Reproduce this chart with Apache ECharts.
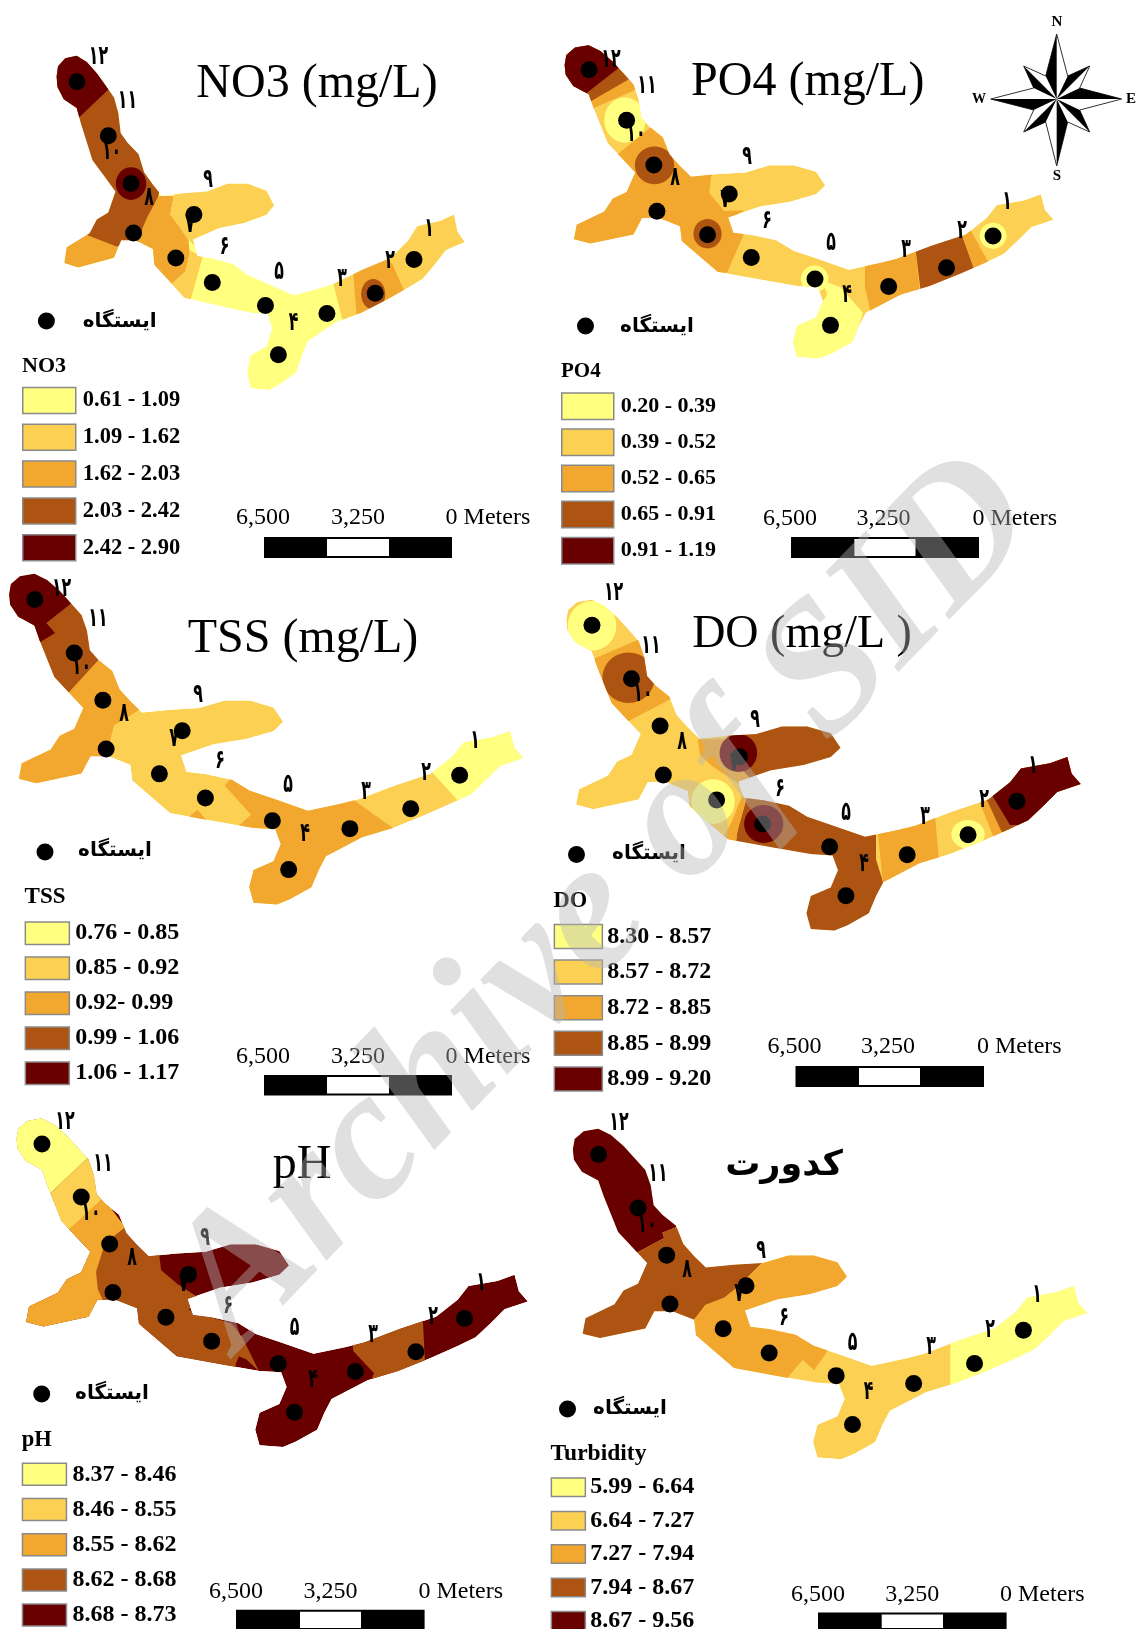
<!DOCTYPE html>
<html><head><meta charset="utf-8">
<style>html,body{margin:0;padding:0;background:#fff}#c{width:1136px;height:1629px}</style>
<script src="https://cdn.jsdelivr.net/npm/echarts@6/dist/echarts.min.js"></script>
</head><body><div id="c"></div>
<script>
// ---------- data (map units) ----------
const RIVER_OUTLINE = [[25,100],[30,70],[55,47],[95,40],[130,58],[165,90],[195,125],[225,160],[240,205],[248,262],[272,290],[310,322],[330,375],[360,410],[392,443],[470,435],[550,430],[620,408],[690,408],[755,428],[782,470],[755,497],[680,520],[590,535],[500,568],[515,615],[570,622],[640,638],[690,670],[760,695],[850,728],[940,708],[990,695],[1090,655],[1190,620],[1250,570],[1280,530],[1360,515],[1408,497],[1420,545],[1445,575],[1380,598],[1340,640],[1300,680],[1250,705],[1175,740],[1085,778],[1000,805],[900,860],[880,900],[860,950],[800,985],[765,1000],[700,995],[688,950],[700,900],[755,875],[775,825],[760,782],[700,778],[600,760],[470,735],[420,690],[365,640],[360,595],[300,570],[250,570],[225,620],[100,648],[52,635],[60,590],[140,550],[165,510],[205,490],[230,430],[190,385],[150,340],[110,235],[95,190],[50,165],[28,130]];
const STATIONS = [[1269,625],[1134,722],[966,780],[797,899],[752,757],[567,691],[503,496],[440,621],[293,549],[284,407],[205,270],[96,115]];
const STATION_NAMES = ["۱","۲","۳","۴","۵","۶","۷","۸","۹","۱۰","۱۱","۱۲"];
const STATION_WORD = "ایستگاه";
const CLASS_COLORS = ["#FFFF80","#FCD153","#F2A72E","#AD5412","#690000"];

const RANGES_NO3 = ["0.61 - 1.09","1.09 - 1.62","1.62 - 2.03","2.03 - 2.42","2.42 - 2.90"];
const RANGES_PO4 = ["0.20 - 0.39","0.39 - 0.52","0.52 - 0.65","0.65 - 0.91","0.91 - 1.19"];
const RANGES_TSS = ["0.76 - 0.85","0.85 - 0.92","0.92- 0.99","0.99 - 1.06","1.06 - 1.17"];
const RANGES_DO  = ["8.30 - 8.57","8.57 - 8.72","8.72 - 8.85","8.85 - 8.99","8.99 - 9.20"];
const RANGES_PH  = ["8.37 - 8.46","8.46 - 8.55","8.55 - 8.62","8.62 - 8.68","8.68 - 8.73"];
const RANGES_TURB= ["5.99 - 6.64","6.64 - 7.27","7.27 - 7.94","7.94 - 8.67","8.67 - 9.56"];

// zones in paint order: [class, polygon] or [class, cx, cy, rx, ry]; clipped to the river
const ZONES_NO3 = [
 [0,RIVER_OUTLINE],
 [3,[[380,443],[339,516],[322,574],[231,589],[105,548],[-46,506],[-46,-15],[458,-15]]],
 [2,[[380,443],[433,443],[421,495],[484,568],[490,621],[471,662],[421,699],[332,673],[307,569],[339,506]]],
 [2,[[108,548],[238,589],[238,673],[-46,673],[-46,527]]],
 [1,[[433,402],[837,350],[837,527],[509,589],[484,568],[421,495],[433,443]]],
 [1,[[490,600],[534,616],[490,746],[408,725],[421,699],[471,662]]],
 [4,[[0,299],[350,23],[350,-50],[-50,-50],[-50,299]]],
 [4,284,407,53,47],
 [1,[[988,694],[1023,808],[1467,715],[1467,454],[988,454]]],
 [2,[[1057,652],[1070,798],[1240,725],[1196,642],[1165,610],[1057,631]]],
 [3,1127,725,42,44]
];
const ZONES_PO4 = [
 [1,RIVER_OUTLINE],
 [2,[[178,375],[281,286],[521,347],[450,442],[445,492],[488,548],[548,546],[510,570],[545,620],[497,737],[347,737],[-23,682],[-23,459]]],
 [3,286,408,57,58],
 [3,440,618,41,45],
 [0,200,269,60,69],
 [2,[[-50,306],[400,98],[400,-50],[-50,-50]]],
 [3,[[-50,304],[400,29],[400,-50],[-50,-50]]],
 [4,[[0,260],[300,12],[300,-50],[-50,-50],[-50,260]]],
 [2,[[897,626],[897,782],[924,905],[1065,882],[1038,615]]],
 [3,[[1038,615],[1065,849],[1229,771],[1169,592]]],
 [2,[[1169,592],[1229,771],[1272,737],[1196,592]]],
 [0,1269,624,39,40],
 [0,751,756,40,41],
 [0,[[772,760],[826,782],[891,860],[848,1016],[674,1016],[674,882],[761,849],[788,804]]]
];
const ZONES_TSS = [
 [1,RIVER_OUTLINE],
 [2,[[190,385],[272,290],[400,300],[385,435],[315,480],[295,560],[240,610],[200,700],[-20,700],[-20,400]]],
 [3,[[190,385],[272,290],[350,200],[200,50],[50,200],[120,430]]],
 [4,[[108,240],[152,212],[128,183],[198,125],[210,50],[50,-20],[-20,50],[-20,250]]],
 [2,[[620,655],[650,620],[900,640],[1085,778],[1100,1050],[640,1050],[655,775],[693,740]]],
 [2,[[520,748],[545,725],[572,757]]],
 [0,[[1170,590],[1270,705],[1500,705],[1500,450],[1170,450]]]
];
const ZONES_DO = [
 [1,RIVER_OUTLINE],
 [0,96,116,67,72],
 [2,[[104,210],[238,150],[389,275],[311,330],[192,395],[78,395]]],
 [3,197,267,72,73],
 [3,[[471,445],[445,455],[502,535],[544,575],[854,575],[854,375],[471,375]]],
 [2,[[388,445],[461,445],[502,525],[539,565],[502,575],[430,525],[394,490]]],
 [4,500,485,52,55],
 [0,430,626,60,65],
 [3,[[523,614],[497,714],[492,754],[689,824],[678,1024],[854,1024],[901,864],[880,794],[880,704],[803,604],[616,585]]],
 [2,[[513,604],[523,614],[497,714],[492,754],[461,724],[482,684],[497,644]]],
 [4,570,691,54,55],
 [2,[[880,664],[901,884],[1056,824],[1041,644]]],
 [0,1134,721,46,42],
 [2,[[1165,624],[1206,734],[1527,734],[1527,325],[1165,325]]],
 [3,[[1185,619],[1227,714],[1527,714],[1527,325],[1185,325]]],
 [4,[[1201,609],[1250,694],[1527,694],[1527,325],[1201,325]]]
];
const ZONES_PH = [
 [4,RIVER_OUTLINE],
 [3,[[327,358],[483,358],[422,444],[427,484],[472,524],[531,564],[503,599],[623,640],[652,680],[699,780],[664,745],[643,735],[633,760],[674,860],[281,860],[-20,660],[-20,358]]],
 [2,[[171,358],[266,273],[327,358],[271,404],[246,489],[251,539],[266,574],[241,680],[-20,680],[-20,358]]],
 [1,[[120,258],[231,148],[382,148],[266,273],[171,364],[-20,364],[-20,258]]],
 [0,[[120,258],[231,148],[281,57],[80,-43],[-70,57],[-70,258]]],
 [3,[[955,660],[960,720],[1018,785],[986,860],[1162,810],[1152,599],[986,609]]]
];
const ZONES_TURB = [
 [1,RIVER_OUTLINE],
 [4,[[200,401],[277,357],[272,342],[308,327],[400,200],[100,-50],[-50,100],[-50,500]]],
 [3,[[200,401],[277,357],[272,342],[308,327],[500,327],[547,430],[484,496],[443,531],[391,552],[360,594],[360,800],[-50,800],[-50,500]]],
 [2,[[547,430],[900,300],[900,600],[700,600],[728,686],[691,741],[660,711],[619,761],[619,900],[300,900],[360,594],[391,552],[443,531],[484,496]]],
 [0,[[1067,400],[1067,900],[1600,900],[1600,400]]]
];

// ---------- layout (page pixels) ----------
const SERIF = '"Liberation Serif"';
const PANELS = [
 {key:"NO3",title:"NO3 (mg/L)",tx:317,ty:84,tf:`48px ${SERIF}`,ranges:RANGES_NO3,zones:ZONES_NO3,ax:.2873,bx:49.4,ay:.3482,by:41.8,
  lt:"NO3",ltx:22,lty:366,lts:22,sl:22,st:387.5,sw:53,sh:26,pitch:36.8,fs:22.5,tg:2,
  dot:[46.4,321],word:[119.6,322],bar:[264,327,389,452,537,558],sc:[263,358,445.6,518],
  nums:[[429,229],[390,261],[342,279],[293.5,323],[279,272],[224.6,247],[190,225.4],[149,198],[208,180],[111.6,152],[127.5,101],[98.5,57.4]]},
 {key:"PO4",title:"PO4 (mg/L)",tx:807.7,ty:82,tf:`48px ${SERIF}`,ranges:RANGES_PO4,zones:ZONES_PO4,ax:.3444,bx:556,ay:.326,by:32.3,
  lt:"PO4",ltx:561,lty:372,lts:21,sl:561,st:393,sw:52,sh:26.5,pitch:36.1,fs:22,tg:2,
  dot:[585.5,326],word:[657,327],bar:[791,854.4,915.5,979,537,558],sc:[790,883.6,972.5,518.5],
  nums:[[1007,202],[962,231.6],[906,250],[847,295],[831,243.5],[767,221],[725,200],[675,178],[747,157],[636,134.5],[647,86.5],[611,60]]},
 {key:"TSS",title:"TSS (mg/L)",tx:303,ty:639.5,tf:`48px ${SERIF}`,ranges:RANGES_TSS,zones:ZONES_TSS,ax:.3622,bx:0,ay:.3444,by:560,
  lt:"TSS",ltx:24.6,lty:897,lts:23,sl:24.6,st:922,sw:44,sh:22.5,pitch:35,fs:24,tg:1,
  dot:[45,852],word:[115,851],bar:[264,327,389,452,1075,1095.5],sc:[263,358,445.6,1057],
  nums:[[475,741],[426,773.5],[366,792.5],[305,834.5],[288,785.6],[220,761.5],[174,739],[124,714],[198,695],[81.5,667],[98,619],[61.6,589]]},
 {key:"DO",title:"DO (mg/L )",tx:802,ty:635,tf:`46px ${SERIF}`,ranges:RANGES_DO,zones:ZONES_DO,ax:.3623,bx:557.2,ay:.3449,by:585.7,
  lt:"DO",ltx:553.6,lty:901,lts:22.5,sl:553.6,st:924.5,sw:48,sh:24,pitch:35.6,fs:24,tg:0,
  dot:[576.5,854.5],word:[649,854],bar:[795.5,859,920,984,1066,1087],sc:[794.5,888,977,1046.6],
  nums:[[1033,766.6],[984,800],[925,817.6],[864,864],[846,813],[780,789],[734,763],[682,742],[755,720],[643,694],[651,646],[613.6,593.4]]},
 {key:"pH",title:"pH",tx:302,ty:1165,tf:`48px ${SERIF}`,ranges:RANGES_PH,zones:ZONES_PH,ax:.3602,bx:7.4,ay:.3423,by:1104.6,
  lt:"pH",ltx:21.7,lty:1440,lts:22.5,sl:21.7,st:1463.3,sw:44,sh:22,pitch:35.2,fs:24,tg:1,
  dot:[41.7,1394],word:[112,1394],bar:[236,300,361,424.6,1609.8,1630],sc:[236,330.6,418.4,1591.5],
  nums:[[481,1283.5],[433,1317],[373,1335],[313,1380],[294.6,1328],[228,1306],[183.7,1284],[132,1258.4],[205,1238.5],[91,1212.7],[103,1164],[65,1122]]},
 {key:"Turbidity",title:"کدورت",tx:784,ty:1165.6,tf:'bold 35px "DejaVu Sans"',ranges:RANGES_TURB,zones:ZONES_TURB,ax:.3622,bx:563.8,ay:.3443,by:1115,
  lt:"Turbidity",ltx:550.6,lty:1453.5,lts:23.5,sl:550.6,st:1478,sw:34,sh:18.5,pitch:33.4,fs:24,tg:0,
  dot:[567.5,1409],word:[630,1409],bar:[818,881.7,943,1006.6,1612.5,1630],sc:[818,912.3,1000,1594.5],
  nums:[[1037,1295.6],[990,1330],[931,1347],[868.6,1392.5],[852.5,1342.7],[784,1318.6],[739,1294.5],[687,1270.5],[761,1251],[647,1224.8],[658,1174],[619,1122.7]]}
];
const MAP_X = [0,1500], MAP_Y = [0,1010];

// ---------- build ----------
const grid=[],xAxis=[],yAxis=[],series=[],legend=[],graphic=[];
const txt=(text,x,y,font,extra)=>graphic.push(Object.assign({type:'text',z:20,silent:true,style:{text,x,y,font,fill:'#000',align:'center',verticalAlign:'middle',textAlign:'center',textVerticalAlign:'middle'}},extra||{}));

PANELS.forEach((p,i)=>{
  grid.push({left:p.bx+p.ax*MAP_X[0],top:p.by+p.ay*MAP_Y[0],width:p.ax*(MAP_X[1]-MAP_X[0]),height:p.ay*(MAP_Y[1]-MAP_Y[0]),show:false,containLabel:false});
  xAxis.push({type:'value',gridIndex:i,min:MAP_X[0],max:MAP_X[1],show:false});
  yAxis.push({type:'value',gridIndex:i,min:MAP_Y[0],max:MAP_Y[1],inverse:true,show:false});
  p.ranges.forEach((name,cls)=>{
    const ids=[];p.zones.forEach((z,k)=>{if(z[0]===cls)ids.push([k,0]);});
    series.push({type:'custom',name,xAxisIndex:i,yAxisIndex:i,coordinateSystem:'cartesian2d',silent:true,animation:false,
      itemStyle:{color:CLASS_COLORS[cls]},data:ids,z:2,
      renderItem:(params,api)=>{
        const k=api.value(0),z=p.zones[k],fill=CLASS_COLORS[cls];
        const clipPts=RIVER_OUTLINE.map(q=>api.coord(q));
        const clipPath={type:'polygon',shape:{points:clipPts}};
        if(z.length===2){
          return {type:'polygon',z2:k,shape:{points:z[1].map(q=>api.coord(q))},style:{fill,stroke:null},clipPath};
        }
        const c=api.coord([z[1],z[2]]),s=api.size([z[3],z[4]]);
        return {type:'ellipse',z2:k,shape:{cx:c[0],cy:c[1],rx:s[0],ry:s[1]},style:{fill,stroke:null},clipPath};
      }});
  });
  series.push({type:'scatter',name:STATION_WORD+' '+p.key,xAxisIndex:i,yAxisIndex:i,data:STATIONS,symbol:'circle',symbolSize:17,itemStyle:{color:'#000',opacity:1},silent:true,animation:false,z:5});

  const rowH=Math.max(p.sh+1.5,p.fs);
  legend.push({show:true,orient:'vertical',left:p.sl,top:p.st-(rowH-p.sh)/2,height:240,padding:0,itemWidth:p.sw,itemHeight:p.sh,itemGap:p.pitch-rowH,selectedMode:false,
    textStyle:{fontFamily:'Liberation Serif',fontWeight:'bold',fontSize:p.fs,color:'#000',padding:[0,0,0,p.tg]},
    data:p.ranges.map((name,cls)=>({name,icon:'rect',itemStyle:{color:CLASS_COLORS[cls],borderColor:'#8a8a8a',borderWidth:1.5}}))});

  txt(p.title,p.tx,p.ty,p.tf);
  graphic.push({type:'text',z:20,silent:true,style:{text:p.lt,x:p.ltx,y:p.lty,font:`bold ${p.lts}px ${SERIF}`,fill:'#000',align:'left',textAlign:'left',verticalAlign:'middle',textVerticalAlign:'middle'}});
  graphic.push({type:'circle',z:20,silent:true,shape:{cx:p.dot[0],cy:p.dot[1],r:8.5},style:{fill:'#000'}});
  txt(STATION_WORD,p.word[0],p.word[1],'bold 20px "DejaVu Sans"');
  p.nums.forEach((q,n)=>graphic.push({type:'text',z:20,silent:true,x:q[0],y:q[1],scaleX:.72,scaleY:1.2,style:{text:STATION_NAMES[n],x:0,y:0,font:'bold 22px "DejaVu Sans"',fill:'#000',align:'center',textAlign:'center',verticalAlign:'middle',textVerticalAlign:'middle'}}));
  const b=p.bar;
  graphic.push({type:'rect',z:20,silent:true,shape:{x:b[0],y:b[4],width:b[3]-b[0],height:b[5]-b[4]},style:{fill:'#000'}});
  graphic.push({type:'rect',z:21,silent:true,shape:{x:b[1],y:b[4]+2,width:b[2]-b[1],height:b[5]-b[4]-4},style:{fill:'#fff'}});
  txt("6,500",p.sc[0],p.sc[3],`24px ${SERIF}`);
  txt("3,250",p.sc[1],p.sc[3],`24px ${SERIF}`);
  graphic.push({type:'text',z:20,silent:true,style:{text:"0 Meters",x:p.sc[2],y:p.sc[3],font:`24px ${SERIF}`,fill:'#000',align:'left',textAlign:'left',verticalAlign:'middle',textVerticalAlign:'middle'}});
});

// compass rose
const CX=1056.7,CY=99;
const tips=[[0,-65],[33,-33],[65,0],[33,33],[0,67],[-33,33],[-66,0],[-33,-33]];
const notches=[[-11,-23],[11,-23],[23,-11],[23,11],[11,23],[-11,23],[-23,11],[-23,-11]];
const star=[];tips.forEach((t,i)=>{star.push([CX+notches[i][0],CY+notches[i][1]]);star.push([CX+t[0],CY+t[1]]);});
graphic.push({type:'polygon',z:20,silent:true,shape:{points:star},style:{fill:'#fff',stroke:'#333',lineWidth:1}});
tips.forEach((t,i)=>graphic.push({type:'polygon',z:21,silent:true,shape:{points:[[CX+t[0],CY+t[1]],[CX+notches[i][0],CY+notches[i][1]],[CX,CY]]},style:{fill:'#000'}}));
txt("N",1057,22,`bold 15px ${SERIF}`);txt("S",1057,176,`bold 15px ${SERIF}`);txt("W",979,99,`bold 14px ${SERIF}`);txt("E",1131,99,`bold 15px ${SERIF}`);

// watermark
graphic.push({type:'text',z:50,silent:true,x:606,y:904,rotation:0.80,style:{text:"Archive of SID",x:0,y:0,font:`italic bold 186px ${SERIF}`,fill:'rgba(180,180,180,0.42)',align:'center',textAlign:'center',verticalAlign:'middle',textVerticalAlign:'middle'}});

const chart=echarts.init(document.getElementById('c'),null,{renderer:'canvas'});
chart.setOption({animation:false,backgroundColor:'#fff',tooltip:{show:false},grid,xAxis,yAxis,legend,series,graphic:{elements:graphic}});
</script></body></html>
